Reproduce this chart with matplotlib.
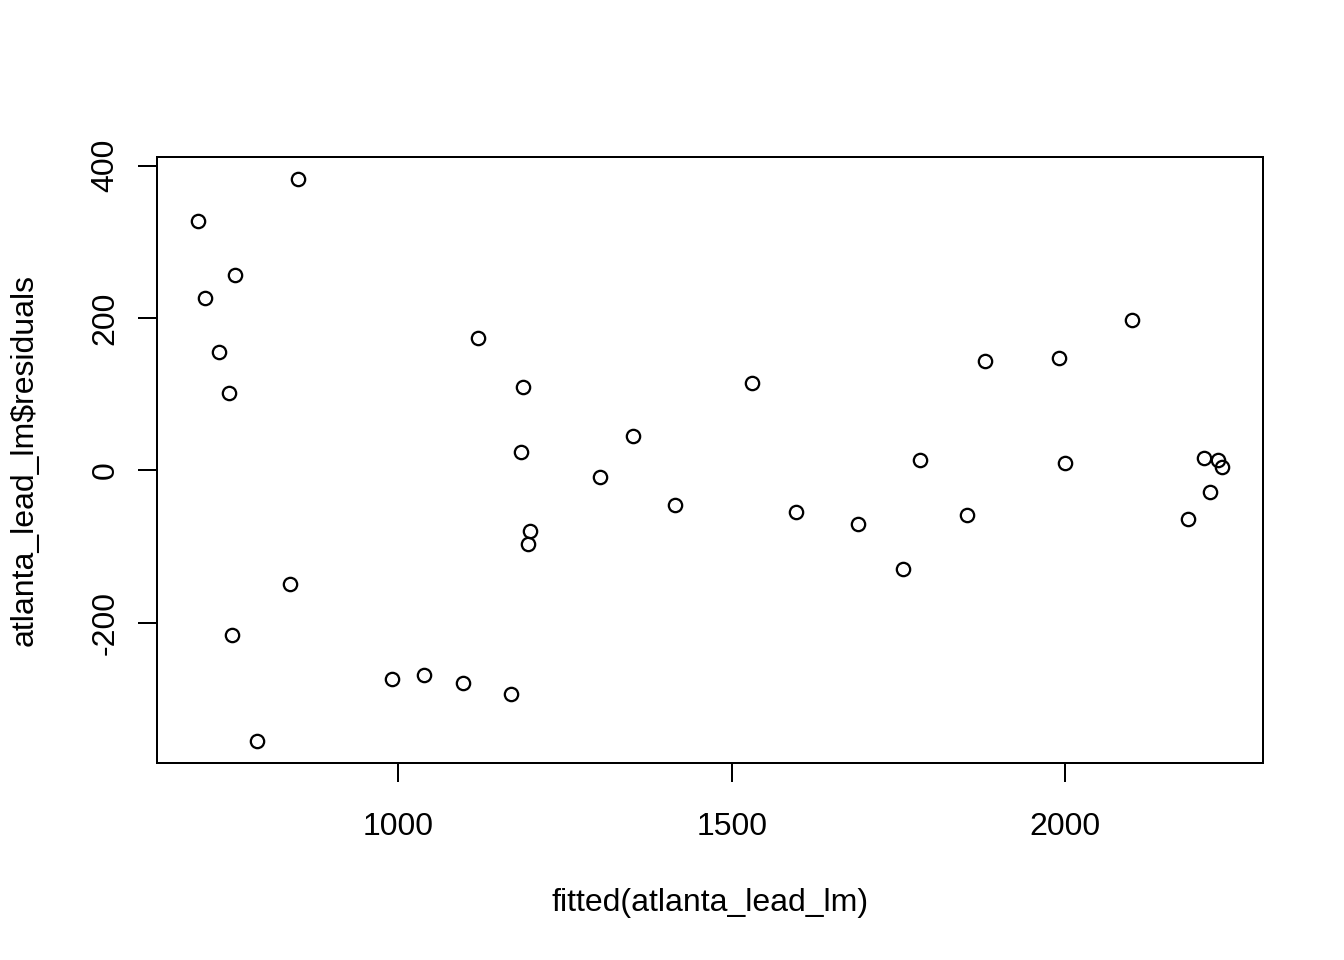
import matplotlib
matplotlib.use("Agg")
import matplotlib.pyplot as plt

fitted = [700, 850, 711, 756, 732, 747, 751, 789, 838, 991, 1039, 1097, 1169,
          1120, 1187, 1184, 1198, 1195, 1303, 1352, 1415, 1531, 1597, 1690,
          1757, 1783, 1853, 1879, 1991, 2000, 2100, 2184, 2208, 2217, 2229, 2235]
residuals = [328, 382, 226, 256, 155, 102, -216, -355, -150, -274, -269, -279, -294,
             174, 109, 24, -80, -97, -9, 45, -45, 115, -55, -71,
             -130, 14, -59, 143, 147, 9, 198, -64, 16, -28, 13, 4]
xticks = [1000, 1500, 2000]
yticks = [-200, 0, 200, 400]

plt.rcParams['font.family'] = ['Liberation Sans', 'DejaVu Sans']
plt.rcParams['font.size'] = 12

fig = plt.figure(figsize=(7, 5), dpi=192)
ax = fig.add_axes([157/1344, 1-763/960, (1263-157)/1344, (763-157)/960])
ax.plot(fitted, residuals, linestyle='none', marker='o', markersize=5.0,
        markerfacecolor='none', markeredgecolor='black', markeredgewidth=0.85)

xr = max(fitted) - min(fitted)
yr = max(residuals) - min(residuals)
ax.set_xlim(min(fitted) - 0.04*xr, max(fitted) + 0.04*xr)
ax.set_ylim(min(residuals) - 0.04*yr, max(residuals) + 0.04*yr)

ax.set_xticks(xticks)
ax.set_yticks(yticks)
ax.set_xticklabels([str(v) for v in xticks])
ax.set_yticklabels([str(v) for v in yticks], rotation=90, va='center')
ax.tick_params(direction='out', length=7.2, width=0.75, labelsize=12)
ax.tick_params(axis='x', pad=11)
ax.tick_params(axis='y', pad=6.5)
for s in ax.spines.values():
    s.set_linewidth(0.75)

ax.set_xlabel('fitted(atlanta_lead_lm)', labelpad=17.5, fontsize=12)
ax.set_ylabel('atlanta_lead_lm$residuals', labelpad=19, fontsize=12)

fig.savefig('out.png', dpi=192)
